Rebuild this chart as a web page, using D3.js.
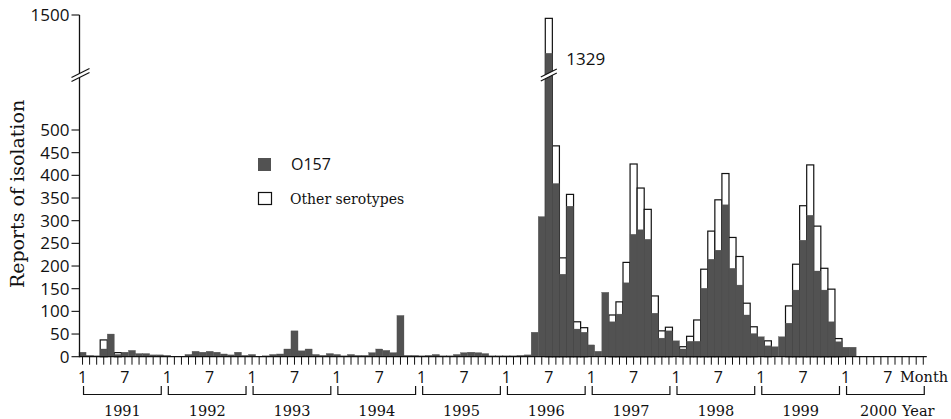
<!DOCTYPE html>
<html><head><meta charset="utf-8">
<script src="https://cdn.jsdelivr.net/npm/d3@7"></script>
<style>body{margin:0;background:#fff}svg{display:block}</style>
</head><body>
<svg id="c" width="951" height="419"></svg>
<script>
// ---- data ----
const years = [1991,1992,1993,1994,1995,1996,1997,1998,1999,2000];
const monthLabels = ["1","7"];
const yTickValues = [0,50,100,150,200,250,300,350,400,450,500,1500];
const o157 = [
  10,3,2,17,50,5,10,14,7,7,4,4,
  3,1,1,5,12,10,12,10,6,4,10,3,
  5,1,2,5,6,17,57,13,17,5,3,7,
  5,2,5,3,3,9,17,14,9,91,3,3,
  2,3,5,2,2,5,9,10,9,7,2,2,
  2,2,3,4,54,309,1329,382,182,332,61,54,
  26,12,142,77,94,163,270,280,259,96,41,57,
  35,17,34,34,151,215,235,335,195,158,92,51,
  44,24,22,44,74,147,257,312,189,147,77,33,
  21,21,0,0,0,0,0,0,0,0,0,0
];
const other = [
  0,0,0,20,0,4,0,0,0,0,0,0,
  0,0,0,0,0,0,0,0,0,0,0,0,
  0,0,0,0,0,0,0,0,0,0,0,0,
  0,0,0,0,0,0,0,0,0,0,0,0,
  0,0,0,0,0,0,0,0,0,0,0,0,
  0,0,0,0,0,0,156,83,36,26,16,10,
  0,0,0,15,27,45,155,92,66,38,16,8,
  0,5,11,47,42,62,111,69,68,63,26,15,
  0,11,0,0,38,57,76,111,99,48,72,7,
  0,0,0,0,0,0,0,0,0,0,0,0
];
const peakLabel = "1329";
const legendLabels = ["O157","Other serotypes"];

// ---- drawing ----
const svg = d3.select("#c");
const SANS = "'Open Sans', sans-serif", SERIF = "'DejaVu Serif', serif";
const DARK = "#525252";
const months = d3.range(years.length*12);
const x = d3.scaleBand().domain(months).range([79, 926.8]).paddingInner(0).paddingOuter(0);
const yLow = d3.scaleLinear().domain([0,500]).range([356.7,130]);
const yHigh = d3.scaleLinear().domain([1254,1500]).range([70,15]);
const BREAK = 610;
const y = v => v <= BREAK ? yLow(v) : yHigh(v);
const base = y(0);
const xc = i => x(i) + x.bandwidth()/2;

// total bars (white with outline)
svg.append("g").selectAll("rect").data(months.filter(i=>other[i]>0)).join("rect")
  .attr("x", i=>x(i)).attr("width", x.bandwidth())
  .attr("y", i=>y(o157[i]+other[i])).attr("height", i=>base - y(o157[i]+other[i]))
  .attr("fill","#fff").attr("stroke","#111").attr("stroke-width",1.2);
// O157 bars
svg.append("g").selectAll("rect").data(months.filter(i=>o157[i]>0)).join("rect")
  .attr("x", i=>x(i)).attr("width", x.bandwidth())
  .attr("y", i=>y(o157[i])).attr("height", i=>base - y(o157[i]))
  .attr("fill",DARK).attr("stroke",DARK).attr("stroke-width",0.3);

// axes
const axisX = 79.5;
svg.append("line").attr("x1",axisX).attr("x2",axisX).attr("y1",y(1500)).attr("y2",base+0.5)
  .attr("stroke","#111").attr("stroke-width",1.3);
svg.append("line").attr("x1",axisX).attr("x2",x.range()[1]).attr("y1",base).attr("y2",base)
  .attr("stroke","#111").attr("stroke-width",1.3);

const yt = svg.append("g");
yTickValues.forEach(v=>{
  yt.append("line").attr("x1",axisX-8).attr("x2",axisX).attr("y1",y(v)).attr("y2",y(v))
    .attr("stroke","#111").attr("stroke-width",1.1);
  yt.append("text").attr("x",axisX-10).attr("y",y(v)).attr("dy","0.35em")
    .attr("text-anchor","end").attr("font-family",SANS).attr("font-size",17).attr("fill","#111").text(v);
});

// x ticks
svg.append("g").selectAll("line").data(months).join("line")
  .attr("x1",xc).attr("x2",xc).attr("y1",base).attr("y2",base+8)
  .attr("stroke","#111").attr("stroke-width",1);
years.forEach((yr,k)=>{
  [0,6].forEach((m,j)=>{
    svg.append("text").attr("x",xc(k*12+m)).attr("y",377).attr("dy","0.35em")
      .attr("text-anchor","middle").attr("font-family",SANS).attr("font-size",16).attr("fill","#111")
      .text(monthLabels[j]);
  });
  const x0 = xc(k*12)+1, x1 = xc(k*12+11)+1;
  svg.append("path").attr("d",`M${x0},386V394.5H${x1}V386`).attr("fill","none")
    .attr("stroke","#111").attr("stroke-width",1.2);
  const last = k === years.length-1;
  svg.append("text").attr("x",last ? 897 : (x0+x1)/2).attr("y",411).attr("dy","0.35em")
    .attr("text-anchor",last ? "end" : "middle").attr("font-family",SERIF).attr("font-size",14.5)
    .attr("fill","#111").text(yr);
});
svg.append("text").attr("x",900).attr("y",377).attr("dy","0.35em").attr("font-family",SERIF)
  .attr("font-size",14.5).attr("fill","#111").text("Month");
svg.append("text").attr("x",902).attr("y",411).attr("dy","0.35em").attr("font-family",SERIF)
  .attr("font-size",14.5).attr("fill","#111").text("Year");

// y title
svg.append("text").attr("transform","translate(24,194) rotate(-90)").attr("text-anchor","middle")
  .attr("font-family",SERIF).attr("font-size",19).attr("fill","#111").text("Reports of isolation");

// break marks
function breakMark(cx, cy, w){
  const g = svg.append("g");
  const dx = w/2, dy = w/4;
  g.append("path").attr("d",`M${cx-dx},${cy+dy-2}L${cx+dx},${cy-dy-2}L${cx+dx},${cy-dy+2}L${cx-dx},${cy+dy+2}Z`)
    .attr("fill","#fff");
  [-2,2].forEach(o=>g.append("line").attr("x1",cx-dx).attr("y1",cy+dy+o).attr("x2",cx+dx).attr("y2",cy-dy+o)
    .attr("stroke","#111").attr("stroke-width",1.2));
}
breakMark(axisX+1, 75, 18);
const peakI = o157.indexOf(d3.max(o157));
breakMark(xc(peakI), 75, 16);

// peak label
svg.append("text").attr("x",x(peakI)+x.bandwidth()+14).attr("y",y(o157[peakI])+6).attr("dy","0.35em")
  .attr("font-family",SANS).attr("font-size",17).attr("fill","#111").text(peakLabel);

// legend
const lg = svg.append("g");
lg.append("rect").attr("x",258).attr("y",158).attr("width",13).attr("height",13).attr("fill",DARK);
lg.append("text").attr("x",291).attr("y",164.5).attr("dy","0.35em").attr("font-family",SANS)
  .attr("font-size",16).attr("fill","#111").text(legendLabels[0]);
lg.append("rect").attr("x",258.5).attr("y",192.5).attr("width",13).attr("height",12).attr("fill","#fff")
  .attr("stroke","#111").attr("stroke-width",1.2);
lg.append("text").attr("x",290).attr("y",199).attr("dy","0.35em").attr("font-family",SERIF)
  .attr("font-size",14).attr("fill","#111").text(legendLabels[1]);
</script>
</body></html>
